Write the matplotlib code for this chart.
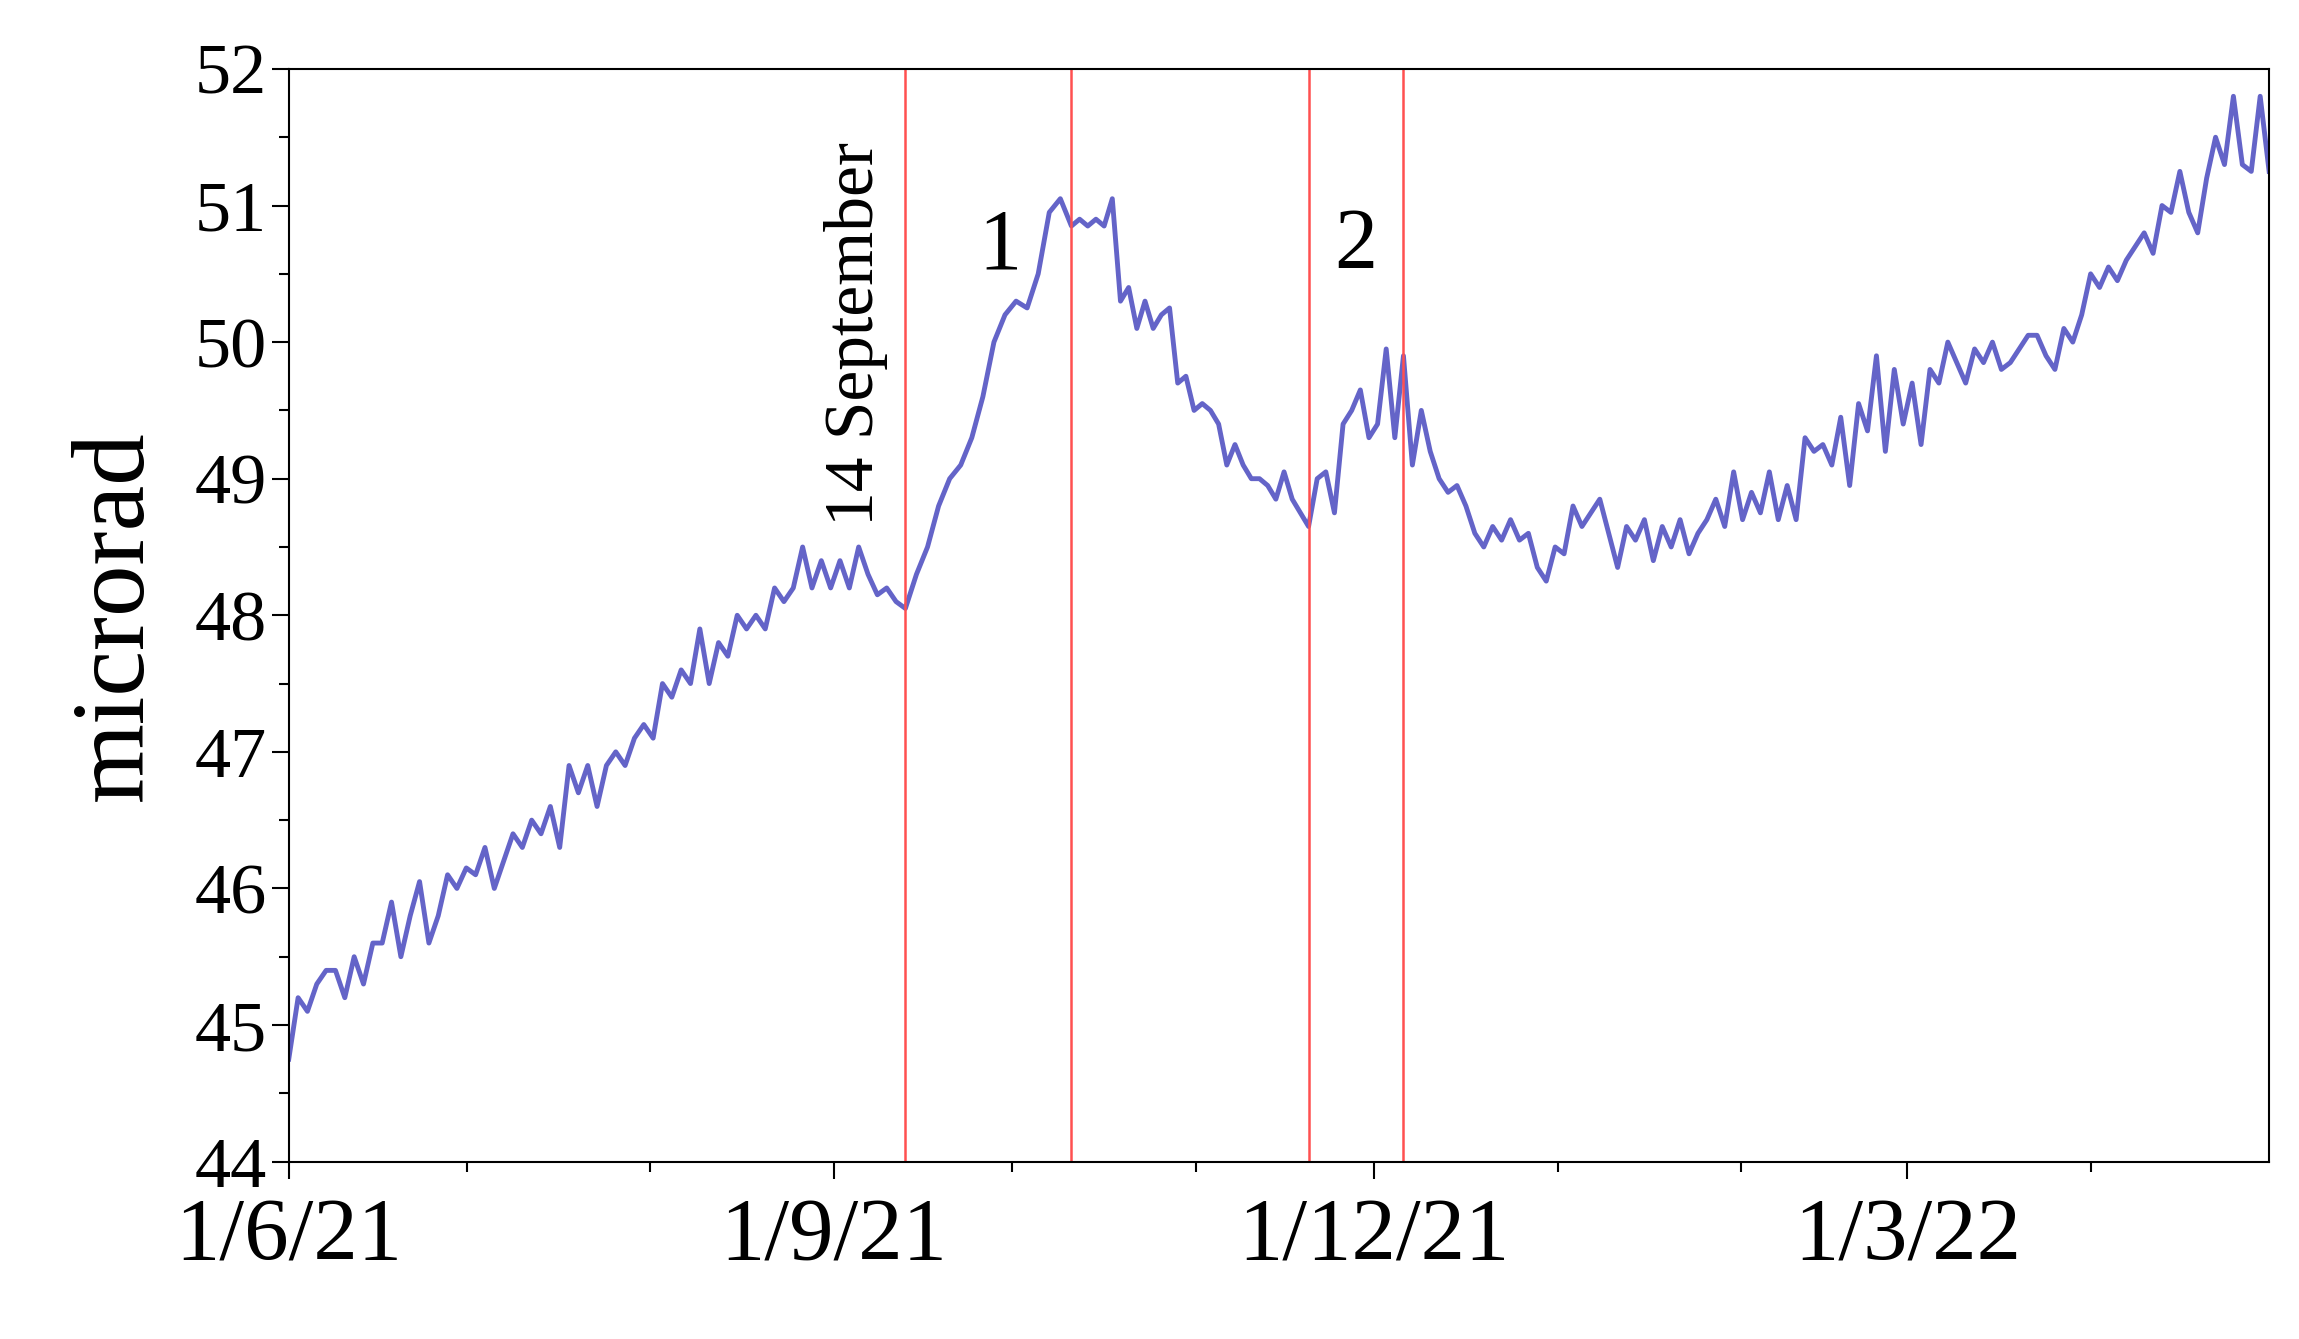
import matplotlib
matplotlib.use("Agg")
import matplotlib.pyplot as plt
import matplotlib.dates as mdates
import numpy as np
import datetime as dt

plt.rcParams['font.family'] = ['Liberation Serif', 'DejaVu Serif']

# segments: (start date, end date, values)
seg_a = [44.75, 45.2, 45.1, 45.3, 45.4, 45.4, 45.2, 45.5, 45.3, 45.6, 45.6, 45.9, 45.5, 45.8, 46.05, 45.6,
         45.8, 46.1, 46.0, 46.15, 46.1, 46.3,
         46.0, 46.2, 46.4, 46.3, 46.5, 46.4, 46.6, 46.3, 46.9, 46.7, 46.9, 46.6, 46.9, 47.0, 46.9, 47.1,
         47.2, 47.1, 47.5,
         47.4, 47.6, 47.5, 47.9, 47.5, 47.8, 47.7, 48.0, 47.9, 48.0, 47.9, 48.2, 48.1, 48.2, 48.5, 48.2, 48.4,
         48.2, 48.4, 48.2, 48.5, 48.3, 48.15, 48.2, 48.1, 48.05]
seg_b = [48.05, 48.3, 48.5, 48.8, 49.0, 49.1, 49.3, 49.6, 50.0, 50.2, 50.3, 50.25, 50.5, 50.95, 51.05, 50.85]
seg_c = [50.85, 50.9, 50.85, 50.9, 50.85, 51.05, 50.3, 50.4, 50.1, 50.3, 50.1, 50.2, 50.25, 49.7, 49.75,
         49.5, 49.55, 49.5, 49.4, 49.1, 49.25, 49.1, 49.0, 49.0, 48.95, 48.85, 49.05, 48.85, 48.75, 48.65]
seg_d = [48.65, 49.0, 49.05, 48.75, 49.4, 49.5, 49.65, 49.3, 49.4, 49.95, 49.3, 49.9]
seg_e = [49.9, 49.1, 49.5, 49.2, 49.0, 48.9, 48.95, 48.8, 48.6, 48.5, 48.65, 48.55, 48.7, 48.55, 48.6, 48.35,
         48.25, 48.5, 48.45, 48.8, 48.65, 48.75, 48.85, 48.6, 48.35, 48.65, 48.55, 48.7, 48.4, 48.65, 48.5,
         48.7, 48.45, 48.6, 48.7, 48.85, 48.65, 49.05, 48.7, 48.9, 48.75, 49.05, 48.7, 48.95, 48.7, 49.3,
         49.2, 49.25, 49.1, 49.45, 48.95, 49.55, 49.35, 49.9, 49.2, 49.8, 49.4, 49.7, 49.25, 49.8, 49.7,
         50.0, 49.85, 49.7, 49.95, 49.85, 50.0, 49.8, 49.85, 49.95, 50.05, 50.05, 49.9, 49.8, 50.1, 50.0,
         50.2, 50.5, 50.4, 50.55, 50.45, 50.6, 50.7, 50.8, 50.65, 51.0, 50.95, 51.25, 50.95, 50.8, 51.2,
         51.5, 51.3, 51.8, 51.3, 51.25, 51.8, 51.25]
segments = [("2021-06-01", "2021-09-13", seg_a), ("2021-09-13", "2021-10-11", seg_b),
            ("2021-10-11", "2021-11-20", seg_c), ("2021-11-20", "2021-12-06", seg_d),
            ("2021-12-06", "2022-05-01", seg_e)]
event_dates = ["2021-09-13", "2021-10-11", "2021-11-20", "2021-12-06"]
xtick_dates = ["2021-06-01", "2021-09-01", "2021-12-01", "2022-03-01"]
xtick_labels = ["1/6/21", "1/9/21", "1/12/21", "1/3/22"]

def d(s):
    return mdates.date2num(dt.datetime.strptime(s, "%Y-%m-%d"))

xs, ys = [], []
for i, (s, e, v) in enumerate(segments):
    x = np.linspace(d(s), d(e), len(v))
    if i > 0:
        x, v = x[1:], v[1:]
    xs.extend(x); ys.extend(v)

fig = plt.figure(figsize=(22.99, 13.39), dpi=100)
ax = fig.add_axes([0.1256, 0.1325, 0.8614, 0.816])
ax.plot(xs, ys, color='#6464c8', lw=3.5)
for e in event_dates:
    ax.axvline(d(e), color='#ff5050', lw=1.8)
ax.set_xlim(d("2021-06-01"), d("2022-05-01"))
ax.set_ylim(44, 52)
ax.set_xticks([d(t) for t in xtick_dates])
ax.set_xticklabels(xtick_labels, fontsize=64)
ax.set_xticks([d(f"{y}-{m:02d}-01") for y, m in [(2021, 7), (2021, 8), (2021, 10), (2021, 11), (2022, 1), (2022, 2), (2022, 4)]], minor=True)
ax.set_yticks(range(44, 53))
ax.set_yticks(np.arange(44.5, 52, 1), minor=True)
ax.tick_params(axis='y', labelsize=52, length=12, width=1.5)
ax.tick_params(axis='x', length=12, width=1.5, pad=14)
ax.tick_params(which='minor', length=7, width=1.5)
for sp in ax.spines.values():
    sp.set_linewidth(1.5)
ax.set_ylabel("microrad", fontsize=74, labelpad=22)
ax.text(d("2021-09-13") - 3, 48.65, "14 September", rotation=90, fontsize=50, ha='right', va='bottom')
ax.text(d("2021-09-29"), 50.4, "1", fontsize=62, ha='center', va='bottom')
ax.text(d("2021-11-28"), 50.4, "2", fontsize=62, ha='center', va='bottom')
fig.savefig("out.png", dpi=100)
